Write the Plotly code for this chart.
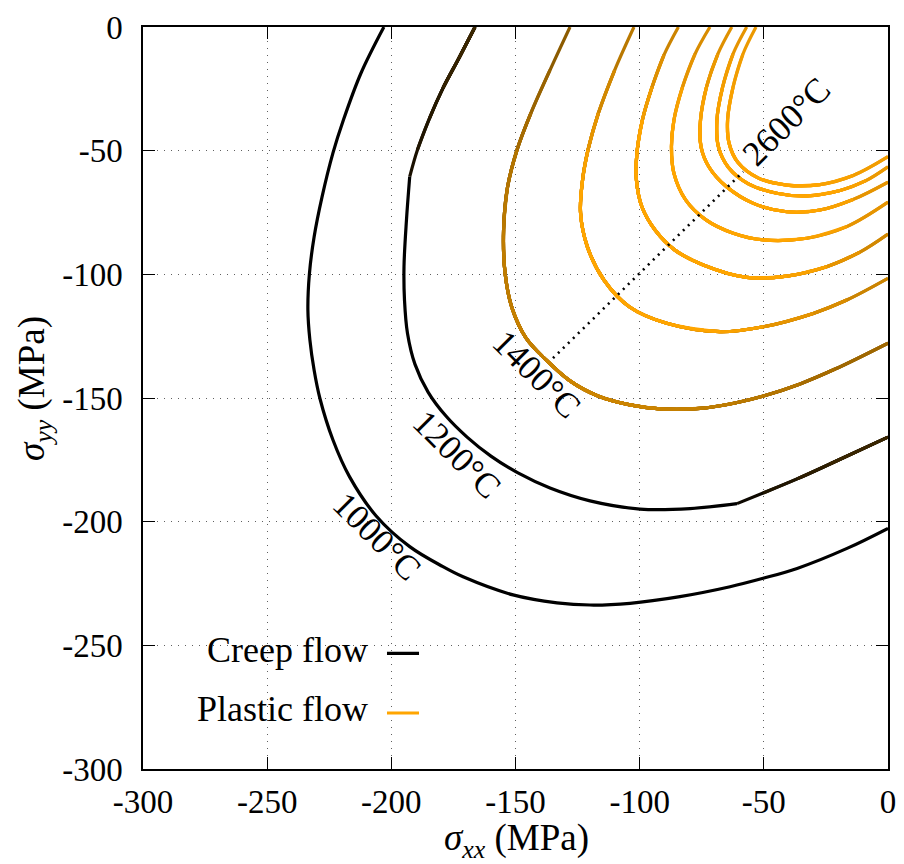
import numpy as np
import plotly.graph_objects as go

# ---- axes ---------------------------------------------------------------
X_TICKS = [-300, -250, -200, -150, -100, -50, 0]
X_TICK_TEXT = ["-300", "-250", "-200", "-150", "-100", "-50", "0"]
Y_TICKS = [0, -50, -100, -150, -200, -250, -300]
Y_TICK_TEXT = ["0", "-50", "-100", "-150", "-200", "-250", "-300"]

# ---- yield loci (sigma_xx, sigma_yy) in MPa ------------------------------
t1000_x = [-203.0, -212.2, -219.3, -223.5, -227.9, -231.1, -233.0, -233.6, -232.8,
           -231.1, -228.8, -223.5, -216.8, -206.1, -192.6, -179.2, -171.1, -151.0,
           -133.3, -120.0, -103.9, -83.8, -63.6, -50.3, -36.6, -16.5, 0.0]
t1000_y = [0.0, -18.6, -37.6, -50.9, -68.7, -84.9, -99.9, -114.4, -126.5,
           -138.7, -150.0, -167.0, -181.9, -197.7, -210.1, -218.2, -222.3, -229.6,
           -232.8, -233.7, -233.0, -230.3, -226.3, -222.9, -218.9, -210.8, -202.7]

t1200_x = [-166.3, -172.75, -179.2, -184.6, -189.5, -192.6, -193.9, -194.9, -194.7,
           -193.5, -190.5, -185.2, -178.0, -169.5, -159.9, -149.0, -136.1, -120.0,
           -99.9, -79.7, -60.8, -50.3, -36.6, -23.4, 0.0]
t1200_y = [0.0, -12.5, -24.7, -36.8, -49.7, -60.5, -78.0, -96.9, -110.4,
           -123.8, -136.3, -147.6, -157.3, -165.8, -173.5, -180.3, -186.4, -191.6,
           -194.9, -194.7, -192.7, -188.4, -182.7, -176.7, -165.8]

t1400_x = [-128.05, -136.1, -143.8, -149.4, -153.2, -154.8, -154.2, -151.4, -145.8,
           -137.7, -128.05, -116.8, -103.9, -91.8, -75.7, -61.6, -49.5, -35.4, -21.3, 0.0]
t1400_y = [0.0, -17.4, -34.8, -49.7, -64.7, -82.1, -99.5, -113.6, -125.7,
           -134.6, -143.1, -149.2, -152.8, -154.4, -154.2, -152.0, -149.0, -144.3, -138.3, -127.8]

t1600_x = [-102.3, -110.05, -116.6, -120.8, -123.0, -123.8, -121.05, -114.4, -104.2,
           -89.1, -67.65, -50.2, -30.1, -16.6, 0.0]
t1600_y = [0.0, -17.4, -34.8, -49.7, -61.9, -75.2, -88.9, -102.3, -113.1,
           -119.8, -123.2, -121.2, -115.8, -110.4, -101.6]

t1800_x = [-84.4, -90.2, -95.0, -98.9, -101.1, -101.3, -99.1, -93.8, -85.8,
           -74.4, -56.9, -40.8, -24.7, -11.3, 0.0]
t1800_y = [0.0, -11.3, -24.3, -37.6, -50.9, -61.9, -72.7, -82.1, -90.2,
           -96.2, -101.2, -100.7, -96.9, -91.0, -83.7]

t2000_x = [-71.7, -77.7, -82.75, -86.2, -87.2, -86.2, -81.5, -73.3, -62.3,
           -50.2, -32.7, -16.6, 0.0]
t2000_y = [0.0, -10.9, -24.3, -37.6, -48.4, -59.2, -69.9, -78.0, -83.4,
           -86.1, -85.4, -80.7, -70.8]

t2200_x = [-62.9, -68.5, -73.1, -75.5, -75.3, -72.1, -65.0, -54.2, -40.8,
           -27.4, -14.0, 0.0]
t2200_y = [0.0, -10.9, -24.3, -37.6, -48.4, -56.6, -64.6, -71.3, -74.7,
           -74.0, -69.7, -62.7]

t2400_x = [-56.9, -62.4, -66.6, -68.9, -68.3, -64.4, -56.4, -44.8, -32.7,
           -19.3, -8.9, 0.0]
t2400_y = [0.0, -10.9, -24.3, -37.6, -48.4, -56.6, -63.3, -67.2, -68.3,
           -66.1, -62.1, -56.5]

t2600_x = [-53.15, -58.4, -62.4, -64.6, -64.0, -60.4, -52.35, -40.8, -27.4,
           -14.0, 0.0]
t2600_y = [0.0, -10.9, -24.3, -37.6, -47.0, -54.8, -61.0, -63.9, -63.7,
           -60.0, -52.4]

# temperature guide line between the 1400 and 2600 loci
guide_x = [-134.9, -58.3]
guide_y = [-133.9, -58.5]

# ---- styling --------------------------------------------------------------
ORANGE = (255, 165, 0)
LINE_W = 3.2
FONT = "Liberation Serif"


def shade(f):
    """Blend from black (0) to orange (1)."""
    r, g, b = (int(round(c * f)) for c in ORANGE)
    return f"rgb({r},{g},{b})"


# (xs, ys, kink indices, shade stops as (point index, blend))
curves = [
    (t1000_x, t1000_y, [], [(0, 0.0), (26, 0.0)]),
    (t1200_x, t1200_y, [5, 20],
     [(0, 0.24), (5, 0.08), (5.5, 0.0), (20, 0.0), (20.5, 0.06), (24, 0.25)]),
    (t1400_x, t1400_y, [], [(0, 0.52), (4, 0.72), (10, 0.8), (14, 0.78), (19, 0.6)]),
    (t1600_x, t1600_y, [], [(0, 0.68), (3, 0.95), (4, 1.0), (10, 1.0), (14, 0.76)]),
    (t1800_x, t1800_y, [], [(0, 0.76), (3, 1.0), (11, 1.0), (14, 0.8)]),
    (t2000_x, t2000_y, [], [(0, 0.82), (3, 1.0), (10, 1.0), (12, 0.86)]),
    (t2200_x, t2200_y, [], [(0, 0.85), (3, 1.0), (9, 1.0), (11, 0.88)]),
    (t2400_x, t2400_y, [], [(0, 0.88), (3, 1.0), (9, 1.0), (11, 0.9)]),
    (t2600_x, t2600_y, [], [(0, 0.9), (3, 1.0), (8, 1.0), (10, 0.92)]),
]

fig = go.Figure()


def add_path(xs, ys, f):
    fig.add_trace(go.Scatter(
        x=xs, y=ys, mode="lines",
        line=dict(color=shade(f), width=LINE_W, shape="spline", smoothing=1.0),
        hoverinfo="skip", showlegend=False,
    ))


# Each smooth section is drawn once in its lowest shade, then re-stroked over
# progressively narrower runs of segments with brighter shades (a stepped gradient).
for xs, ys, kinks, stops in curves:
    n = len(xs)
    si = [s[0] for s in stops]
    sf = [s[1] for s in stops]
    bounds = [0] + kinks + [n - 1]
    for a, b in zip(bounds[:-1], bounds[1:]):
        seg = np.array([np.interp(k + 0.5, si, sf) for k in range(a, b)])
        q = np.round(seg / 0.025) * 0.025
        levels = sorted(set(q.tolist()))
        add_path(xs[a:b + 1], ys[a:b + 1], levels[0])
        for lev in levels[1:]:
            idx = np.nonzero(q >= lev - 1e-9)[0]
            lo, hi = a + int(idx.min()), a + int(idx.max()) + 1
            add_path(xs[lo:hi + 1], ys[lo:hi + 1], lev)

fig.add_trace(go.Scatter(
    x=guide_x, y=guide_y, mode="lines",
    line=dict(color="black", width=2.6, dash="2px,5px"),
    hoverinfo="skip", showlegend=False,
))

# ---- temperature labels ----------------------------------------------------
labels = [
    ("1000°C", -205.9, -206.1, 45),
    ("1200°C", -173.7, -173.0, 45),
    ("1400°C", -141.5, -140.5, 45),
    ("2600°C", -40.8, -38.3, -45),
]
annotations = []
for txt, lx, ly, ang in labels:
    annotations.append(dict(
        x=lx, y=ly, xref="x", yref="y", text=txt, showarrow=False,
        textangle=ang, xanchor="center", yanchor="middle",
        font=dict(family=FONT, size=35, color="black"),
    ))

# axis titles
annotations.append(dict(
    x=0.502, y=-0.096, xref="paper", yref="paper",
    text="<i>σ</i><sub><i>xx</i></sub> (MPa)", showarrow=False,
    xanchor="center", yanchor="middle",
    font=dict(family=FONT, size=37, color="black"),
))
annotations.append(dict(
    x=-0.145, y=0.5135, xref="paper", yref="paper",
    text="<i>σ</i><sub><i>yy</i></sub> (MPa)", showarrow=False,
    textangle=-90, xanchor="center", yanchor="middle",
    font=dict(family=FONT, size=37, color="black"),
))

# key (text on the left, line sample on the right)
key = [("Creep flow", 0.1604, 0.1557, "black"),
       ("Plastic flow", 0.0809, 0.0755, shade(1.0))]
shapes = [dict(type="rect", xref="paper", yref="paper", x0=0.0, x1=0.388,
               y0=0.0, y1=0.217, fillcolor="white", line=dict(width=0),
               layer="between")]
for txt, ty, ly, col in key:
    annotations.append(dict(
        x=0.3047, y=ty, xref="paper", yref="paper", text=txt, showarrow=False,
        xanchor="right", yanchor="middle",
        font=dict(family=FONT, size=36, color="black"),
    ))
    shapes.append(dict(type="line", xref="paper", yref="paper",
                       x0=0.3275, x1=0.3705, y0=ly, y1=ly,
                       line=dict(color=col, width=LINE_W), layer="above"))

axis_common = dict(
    showline=True, linecolor="black", linewidth=1.5, mirror="allticks",
    ticks="inside", ticklen=12, tickwidth=1.2, tickcolor="black",
    showgrid=True, gridcolor="#606060", gridwidth=1, griddash="1px,6px",
    zeroline=False, tickfont=dict(family=FONT, size=33, color="black"),
)

fig.update_layout(
    width=904, height=864,
    margin=dict(l=143, r=16, t=27, b=95, autoexpand=False),
    paper_bgcolor="white", plot_bgcolor="white",
    xaxis=dict(range=[-300, 0], tickvals=X_TICKS, ticktext=X_TICK_TEXT,
               ticklabelstandoff=3, **axis_common),
    yaxis=dict(range=[-300, 0], tickvals=Y_TICKS, ticktext=Y_TICK_TEXT,
               ticklabelstandoff=12, **axis_common),
    annotations=annotations,
    shapes=shapes,
    showlegend=False,
)

fig.write_html("out.html")
